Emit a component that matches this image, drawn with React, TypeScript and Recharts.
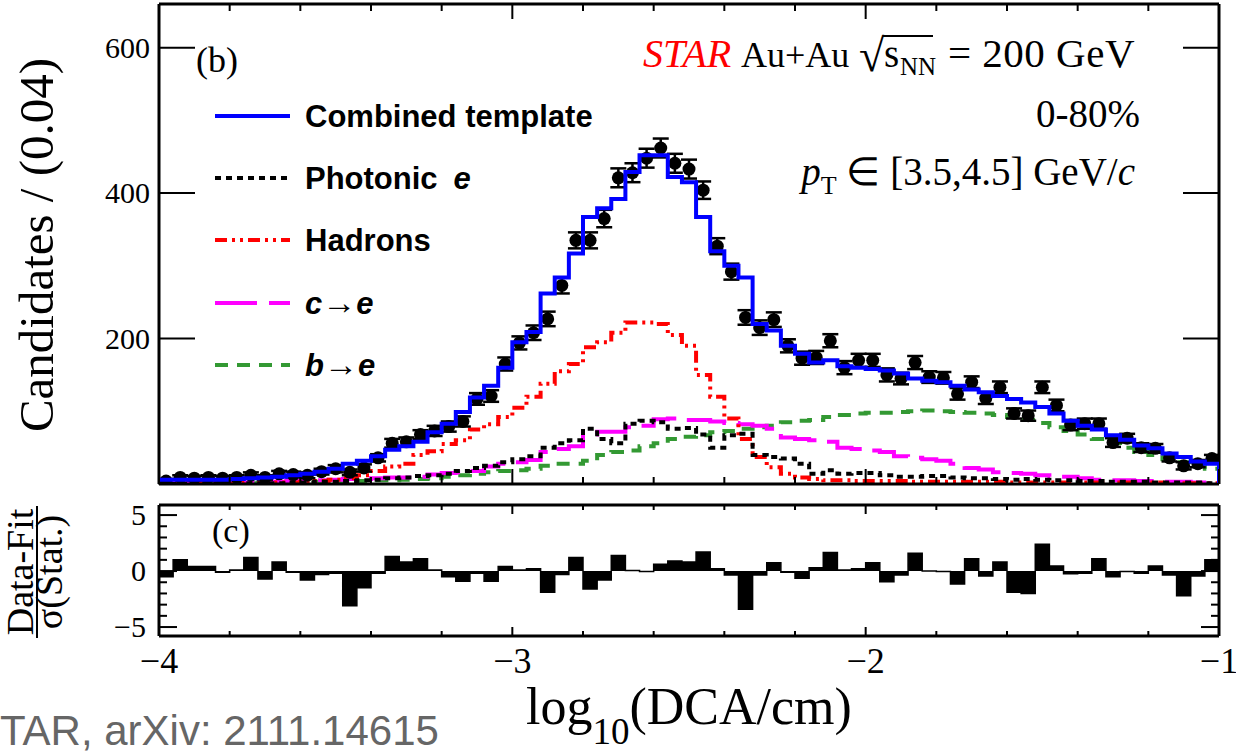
import React from 'react';
import { ComposedChart, Line, Scatter, ErrorBar, XAxis, YAxis, Area } from 'recharts';

// ---------- data (75 bins of width 0.04 in log10(DCA/cm), from -4 to -1) ----------
const BIN_LO = -4;
const BIN_HI = -1;
const BIN_W = 0.04;

const candidates = [
  4, 9, 8, 9, 8, 9, 12, 9, 14, 13,
  12, 17, 21, 16, 22, 36, 56, 58, 68, 73,
  79, 86, 117, 121, 165, 194, 208, 227, 273, 335,
  335, 365, 421, 428, 448, 462, 441, 433, 404, 327,
  292, 229, 215, 226, 190, 173, 174, 197, 160, 170,
  170, 150, 145, 167, 147, 146, 124, 140, 118, 133,
  97, 94, 133, 108, 81, 83, 83, 57, 63, 50,
  49, 36, 25, 28, 35,
];
const candidatesErr = [
  3, 3, 3, 3, 3, 3, 4, 3, 4, 4,
  4, 4, 5, 4, 5, 5, 6, 6, 6, 7,
  7, 7, 8, 8, 9, 9, 10, 10, 11, 11,
  11, 12, 13, 13, 13, 13, 13, 13, 12, 11,
  11, 10, 10, 10, 9, 9, 9, 9, 9, 9,
  9, 9, 8, 9, 8, 8, 8, 8, 8, 8,
  7, 7, 8, 8, 7, 7, 7, 6, 6, 6,
  6, 5, 5, 5, 5,
];
const combinedTemplate = [
  6, 6, 6, 6, 6, 7, 8, 9, 10, 12,
  14, 17, 21, 28, 32, 38, 47, 52, 58, 71,
  83, 99, 119, 135, 160, 195, 209, 262, 284, 317,
  367, 379, 392, 429, 452, 452, 422, 415, 367, 320,
  300, 284, 220, 211, 190, 179, 167, 170, 162, 160,
  158, 156, 152, 145, 142, 140, 135, 130, 126, 121,
  117, 112, 106, 97, 87, 80, 75, 67, 61, 53,
  49, 42, 37, 31, 28,
];
const photonicE = [
  0, 0, 1, 1, 1, 1, 1, 1, 1, 2,
  2, 3, 3, 4, 5, 6, 8, 9, 11, 12,
  14, 18, 22, 25, 30, 34, 38, 50, 56, 60,
  76, 62, 56, 83, 87, 85, 76, 77, 68, 50,
  67, 69, 40, 37, 35, 28, 14, 19, 14, 15,
  15, 12, 10, 10, 11, 11, 9, 8, 8, 7,
  6, 7, 6, 5, 5, 4, 4, 3, 3, 3,
  2, 2, 2, 2, 1,
];
const hadrons = [
  1, 1, 1, 1, 1, 1, 2, 2, 2, 2,
  3, 4, 6, 8, 12, 18, 24, 28, 40, 45,
  55, 60, 75, 82, 92, 105, 120, 138, 155, 165,
  188, 195, 208, 222, 222, 220, 205, 190, 150, 120,
  90, 62, 37, 23, 14, 9, 7, 5, 5, 4,
  4, 4, 4, 3, 3, 3, 3, 3, 3, 3,
  2, 2, 2, 2, 2, 2, 2, 2, 2, 2,
  2, 1, 1, 1, 1,
];
const charmToE = [
  1, 1, 1, 1, 2, 2, 2, 3, 3, 4,
  4, 5, 6, 7, 7, 8, 9, 9, 10, 13,
  15, 16, 18, 24, 28, 30, 33, 44, 48, 52,
  68, 72, 72, 78, 80, 89, 90, 88, 88, 86,
  84, 82, 80, 76, 64, 62, 60, 58, 50, 48,
  46, 44, 38, 36, 34, 32, 28, 22, 20, 16,
  15, 14, 12, 10, 10, 8, 6, 5, 5, 4,
  4, 3, 3, 2, 2,
];
const bottomToE = [
  0, 0, 1, 1, 1, 1, 1, 2, 2, 2,
  2, 3, 3, 4, 4, 5, 5, 6, 7, 8,
  10, 12, 14, 16, 18, 19, 21, 25, 28, 28,
  32, 40, 44, 46, 52, 56, 62, 65, 67, 71,
  73, 76, 78, 80, 85, 87, 88, 92, 95, 97,
  98, 98, 99, 100, 101, 100, 99, 98, 97, 95,
  92, 88, 84, 78, 73, 68, 62, 57, 50, 44,
  40, 34, 30, 25, 21,
];
const residuals = [
  -0.5, 1.0, 0.4, 0.4, -0.1, 0.1, 1.2, -0.7, 0.8, -0.1,
  -0.8, -0.3, -0.2, -3.1, -1.5, -0.2, 1.3, 0.8, 1.1, 0.1,
  -0.5, -0.9, -0.2, -0.9, 0.4, 0.1, 0.2, -1.9, -0.3, 1.2,
  -1.6, -0.8, 1.4, 0.05, -0.05, 0.6, 0.9, 0.8, 1.7, 0.2,
  -0.35, -3.4, -0.35, 0.75, -0.1, -0.65, 0.3, 1.65, 0.1, 0.2,
  0.75, -0.95, -0.35, 1.6, 0.0, -0.05, -1.15, 1.1, -0.45, 0.8,
  -1.9, -2.0, 2.4, 0.45, -0.25, -0.2, 1.1, -0.5, -0.05, -0.2,
  0.45, -0.35, -2.2, -0.45, 1.0,
];

const xTicks = [-4, -3.8, -3.6, -3.4, -3.2, -3, -2.8, -2.6, -2.4, -2.2, -2, -1.8, -1.6, -1.4, -1.2, -1];
const xMajorTicks = [-4, -3, -2, -1];
const yTicksTop = [0, 200, 400, 600];
const yLabelsTop = [200, 400, 600];
const yTicksBottom = [-5, -4, -3, -2, -1, 0, 1, 2, 3, 4, 5];
const yLabelsBottom = [-5, 0, 5];

// ---------- derived rows ----------
const binEdges = candidates.map((_, i) => +(BIN_LO + i * BIN_W).toFixed(3));
const binCenters = candidates.map((_, i) => +(BIN_LO + (i + 0.5) * BIN_W).toFixed(3));

const stepRows = (vals: number[], dropToZero = false) => {
  const rows: { x: number; y: number }[] = vals.map((v, i) => ({ x: binEdges[i], y: v }));
  rows.push({ x: BIN_HI, y: vals[vals.length - 1] });
  if (dropToZero) rows.push({ x: BIN_HI, y: 0 });
  return rows;
};
const pointRows = candidates.map((v, i) => ({ x: binCenters[i], y: v, err: candidatesErr[i] }));

const SERIF = '"Liberation Serif", "Times New Roman", serif';
const SANS = '"Liberation Sans", Arial, sans-serif';

const fmt = (v: number) => (v < 0 ? '\u2212' + Math.abs(v) : String(v));
const near = (arr: number[], v: number) => arr.some((m) => Math.abs(m - v) < 1e-6);

const makeXTick = (dir: number, majorLen: number, minorLen: number, labels: boolean) => (props: any) => {
  const { x, y, payload } = props;
  const v = payload.value;
  const major = near(xMajorTicks, v);
  const len = major ? majorLen : minorLen;
  return (
    <g>
      <line x1={x} x2={x} y1={y} y2={y + dir * len} stroke="#000" strokeWidth={2} />
      {labels && major ? (
        <text x={x} y={y + 37} textAnchor="middle" fontFamily={SERIF} fontSize={36} fill="#000">
          {fmt(v)}
        </text>
      ) : null}
    </g>
  );
};

const makeYTick = (
  dir: number,
  majors: number[],
  labelVals: number[] | null,
  majorLen: number,
  minorLen: number,
  labelOffset: number,
  fontSize: number,
) => (props: any) => {
  const { x, y, payload } = props;
  const v = payload.value;
  const major = near(majors, v);
  const len = major ? majorLen : minorLen;
  return (
    <g>
      <line x1={x} x2={x + dir * len} y1={y} y2={y} stroke="#000" strokeWidth={2} />
      {labelVals && near(labelVals, v) ? (
        <text x={x - labelOffset} y={y} dy="0.34em" textAnchor="end" fontFamily={SERIF} fontSize={fontSize} fill="#000">
          {fmt(v)}
        </text>
      ) : null}
    </g>
  );
};

const frameLine = { stroke: '#000', strokeWidth: 3 };

const legendItems = [
  { key: 'comb', color: '#0000ff', dash: undefined as string | undefined, width: 4 },
  { key: 'phot', color: '#000000', dash: '6 5', width: 4 },
  { key: 'had', color: '#ff0000', dash: '12 5 3 5 3 5', width: 4 },
  { key: 'c', color: '#ff00ff', dash: '42 12', width: 4 },
  { key: 'b', color: '#339933', dash: '13 9', width: 4 },
];

const Marker = (props: any) => {
  const { cx, cy } = props;
  if (cx == null || cy == null) return null;
  return <circle cx={cx} cy={cy} r={6.5} fill="#000" />;
};

export default function App() {
  const legendY = [116, 178, 240, 303, 365];
  return (
    <div style={{ position: 'absolute', left: 0, top: 0, width: 1236, height: 753, background: '#fff', overflow: 'hidden' }}>
      {/* upper panel */}
      <div style={{ position: 'absolute', left: 0, top: 0 }}>
        <ComposedChart width={1236} height={500} margin={{ top: 0, right: 7, bottom: 0, left: 99 }}>
          <XAxis
            xAxisId="b"
            type="number"
            dataKey="x"
            domain={[BIN_LO, BIN_HI]}
            allowDataOverflow
            ticks={xTicks}
            interval={0}
            height={16}
            tickSize={0}
            tickMargin={0}
            tickLine={false}
            axisLine={frameLine}
            tick={makeXTick(-1, 15, 7, false)}
          />
          <XAxis
            xAxisId="t"
            orientation="top"
            type="number"
            dataKey="x"
            domain={[BIN_LO, BIN_HI]}
            allowDataOverflow
            ticks={xTicks}
            interval={0}
            height={4}
            tickSize={0}
            tickMargin={0}
            tickLine={false}
            axisLine={frameLine}
            tick={makeXTick(1, 15, 7, false)}
          />
          <YAxis
            yAxisId="l"
            type="number"
            dataKey="y"
            domain={[0, 660]}
            allowDataOverflow
            ticks={yTicksTop}
            interval={0}
            width={60}
            tickSize={0}
            tickMargin={0}
            tickLine={false}
            axisLine={frameLine}
            tick={makeYTick(1, yTicksTop, yLabelsTop, 36, 0, 9, 30)}
          />
          <YAxis
            yAxisId="r"
            orientation="right"
            type="number"
            dataKey="y"
            domain={[0, 660]}
            allowDataOverflow
            ticks={yTicksTop}
            interval={0}
            width={10}
            tickSize={0}
            tickMargin={0}
            tickLine={false}
            axisLine={frameLine}
            tick={makeYTick(-1, yTicksTop, null, 36, 0, 0, 30)}
          />
          <Line
            xAxisId="b"
            yAxisId="l"
            data={stepRows(bottomToE)}
            dataKey="y"
            type="stepAfter"
            stroke="#339933"
            strokeWidth={4}
            strokeDasharray="13 9"
            dot={false}
            activeDot={false}
            isAnimationActive={false}
          />
          <Line
            xAxisId="b"
            yAxisId="l"
            data={stepRows(charmToE)}
            dataKey="y"
            type="stepAfter"
            stroke="#ff00ff"
            strokeWidth={4}
            strokeDasharray="42 12"
            dot={false}
            activeDot={false}
            isAnimationActive={false}
          />
          <Line
            xAxisId="b"
            yAxisId="l"
            data={stepRows(hadrons)}
            dataKey="y"
            type="stepAfter"
            stroke="#ff0000"
            strokeWidth={4}
            strokeDasharray="12 5 3 5 3 5"
            dot={false}
            activeDot={false}
            isAnimationActive={false}
          />
          <Line
            xAxisId="b"
            yAxisId="l"
            data={stepRows(photonicE)}
            dataKey="y"
            type="stepAfter"
            stroke="#000000"
            strokeWidth={4}
            strokeDasharray="6 5"
            dot={false}
            activeDot={false}
            isAnimationActive={false}
          />
          <Scatter
            xAxisId="b"
            yAxisId="l"
            data={pointRows}
            dataKey="y"
            shape={Marker}
            isAnimationActive={false}
          >
            <ErrorBar dataKey="err" direction="y" width={8} strokeWidth={2.5} stroke="#000" isAnimationActive={false} />
          </Scatter>
          <Line
            xAxisId="b"
            yAxisId="l"
            data={stepRows(combinedTemplate, true)}
            dataKey="y"
            type="stepAfter"
            stroke="#0000ff"
            strokeWidth={4}
            dot={false}
            activeDot={false}
            isAnimationActive={false}
            zIndex={700}
          />
        </ComposedChart>
      </div>

      {/* lower panel: residuals */}
      <div style={{ position: 'absolute', left: 0, top: 490 }}>
        <ComposedChart width={1236} height={263} margin={{ top: 0, right: 7, bottom: 0, left: 99 }}>
          <XAxis
            xAxisId="b"
            type="number"
            dataKey="x"
            domain={[BIN_LO, BIN_HI]}
            allowDataOverflow
            ticks={xTicks}
            interval={0}
            height={117}
            tickSize={0}
            tickMargin={0}
            tickLine={false}
            axisLine={frameLine}
            tick={makeXTick(-1, 9, 5, true)}
          />
          <XAxis
            xAxisId="t"
            orientation="top"
            type="number"
            dataKey="x"
            domain={[BIN_LO, BIN_HI]}
            allowDataOverflow
            ticks={xTicks}
            interval={0}
            height={15}
            tickSize={0}
            tickMargin={0}
            tickLine={false}
            axisLine={frameLine}
            tick={makeXTick(1, 9, 5, false)}
          />
          <YAxis
            yAxisId="l"
            type="number"
            dataKey="y"
            domain={[-5.8, 5.9]}
            allowDataOverflow
            ticks={yTicksBottom}
            interval={0}
            width={60}
            tickSize={0}
            tickMargin={0}
            tickLine={false}
            axisLine={frameLine}
            tick={makeYTick(1, yLabelsBottom, yLabelsBottom, 18, 8, 13, 30)}
          />
          <YAxis
            yAxisId="r"
            orientation="right"
            type="number"
            dataKey="y"
            domain={[-5.8, 5.9]}
            allowDataOverflow
            ticks={yTicksBottom}
            interval={0}
            width={10}
            tickSize={0}
            tickMargin={0}
            tickLine={false}
            axisLine={frameLine}
            tick={makeYTick(-1, yLabelsBottom, null, 18, 8, 0, 30)}
          />
          <Area
            xAxisId="b"
            yAxisId="l"
            data={stepRows(residuals)}
            dataKey="y"
            type="stepAfter"
            baseValue={0}
            stroke="#000"
            strokeWidth={1.5}
            fill="#000"
            fillOpacity={1}
            dot={false}
            activeDot={false}
            isAnimationActive={false}
          />
        </ComposedChart>
      </div>

      {/* annotations */}
      <svg width={1236} height={753} style={{ position: 'absolute', left: 0, top: 0, pointerEvents: 'none' }}>
        <text x={196} y={72} fontFamily={SERIF} fontSize={36} fill="#000">(b)</text>
        <text x={212} y={542} fontFamily={SERIF} fontSize={34} fill="#000">(c)</text>

        <text x={643} y={67} fontFamily={SERIF} fontSize={40} fill="#ff0000" fontStyle="italic">STAR</text>
        <text x={741} y={67} fontFamily={SERIF} fontSize={36} fill="#000">Au+Au</text>
        <text x={859} y={71} fontFamily={SERIF} fontSize={46} fill="#000">{'\u221A'}</text>
        <line x1={883} x2={933} y1={36} y2={36} stroke="#000" strokeWidth={2} />
        <text x={884} y={67} fontFamily={SERIF} fontSize={39} fill="#000">s</text>
        <text x={900} y={75} fontFamily={SERIF} fontSize={25} fill="#000">NN</text>
        <text x={1135} y={67} textAnchor="end" fontFamily={SERIF} fontSize={41} letterSpacing={0.5} fill="#000">= 200 GeV</text>
        <text x={1140} y={127} textAnchor="end" fontFamily={SERIF} fontSize={39} fill="#000">0-80%</text>
        <text x={1135} y={185} textAnchor="end" fontFamily={SERIF} fontSize={39} fill="#000">
          <tspan fontStyle="italic">p</tspan>
          <tspan fontSize={26} dy={9}>T</tspan>
          <tspan dy={-9}>{' \u2208 [3.5,4.5] GeV/'}</tspan>
          <tspan fontStyle="italic">c</tspan>
        </text>

        {/* legend */}
        {legendItems.map((it, i) => (
          <line
            key={it.key}
            x1={215}
            x2={290}
            y1={legendY[i]}
            y2={legendY[i]}
            stroke={it.color}
            strokeWidth={it.width}
            strokeDasharray={it.dash}
          />
        ))}
        <g fontFamily={SANS} fontWeight="bold" fontSize={31} fill="#000">
          <text x={305} y={legendY[0] + 11}>Combined template</text>
          <text x={305} y={legendY[1] + 11}>
            Photonic<tspan dx={16} fontStyle="italic">e</tspan>
          </text>
          <text x={305} y={legendY[2] + 11}>Hadrons</text>
          <text x={305} y={legendY[3] + 11}>
            <tspan fontStyle="italic">c</tspan>
            <tspan fontFamily={SERIF} fontWeight="normal" fontSize={34}>{'\u2192'}</tspan>
            <tspan fontStyle="italic">e</tspan>
          </text>
          <text x={305} y={legendY[4] + 11}>
            <tspan fontStyle="italic">b</tspan>
            <tspan fontFamily={SERIF} fontWeight="normal" fontSize={34}>{'\u2192'}</tspan>
            <tspan fontStyle="italic">e</tspan>
          </text>
        </g>

        {/* axis titles */}
        <text transform="translate(53,245) rotate(-90)" textAnchor="middle" fontFamily={SERIF} fontSize={49} fill="#000">
          Candidates / (0.04)
        </text>
        <g transform="translate(2,572) rotate(-90)">
          <text x={0} y={31} textAnchor="middle" fontFamily={SERIF} fontSize={38} fill="#000">Data-Fit</text>
          <line x1={-66} x2={66} y1={35} y2={35} stroke="#000" strokeWidth={2} />
          <text x={0} y={60} textAnchor="middle" fontFamily={SERIF} fontSize={38} fill="#000">{'\u03C3(Stat.)'}</text>
        </g>
        <text x={526} y={724} fontFamily={SERIF} fontSize={52} fill="#000">
          log<tspan fontSize={37} dy={20}>10</tspan>
          <tspan dy={-20}>(DCA/cm)</tspan>
        </text>

        <text x={0} y={745} fontFamily={SANS} fontSize={42} fill="#666666">TAR, arXiv: 2111.14615</text>
      </svg>
    </div>
  );
}
